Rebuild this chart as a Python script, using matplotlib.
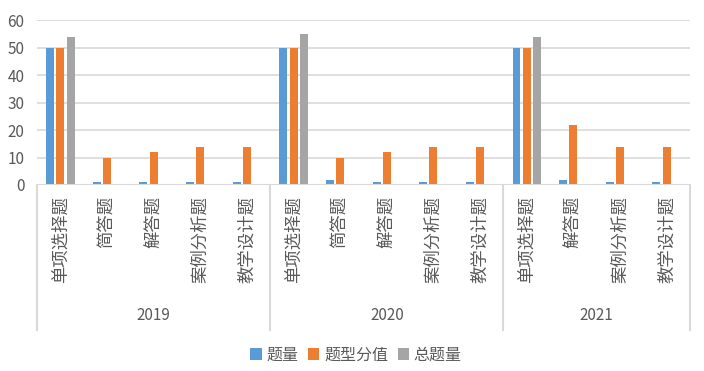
import matplotlib
matplotlib.use("Agg")
import matplotlib.pyplot as plt
import matplotlib.transforms as mtransforms
import numpy as np

plt.rcParams['font.family'] = ['Noto Sans CJK SC', 'DejaVu Sans']

# === Data ===
years = ["2019", "2020", "2021"]
categories = [
    ["单项选择题", "简答题", "解答题", "案例分析题", "教学设计题"],
    ["单项选择题", "简答题", "解答题", "案例分析题", "教学设计题"],
    ["单项选择题", "解答题", "案例分析题", "教学设计题"],
]
series_names = ["题量", "题型分值", "总题量"]
count = [50, 1, 1, 1, 1, 50, 2, 1, 1, 1, 50, 2, 1, 1]
score = [50, 10, 12, 14, 14, 50, 10, 12, 14, 14, 50, 22, 14, 14]
total = [54, 0, 0, 0, 0, 55, 0, 0, 0, 0, 54, 0, 0, 0]
colors = ["#5B9BD5", "#ED7D31", "#A5A5A5"]

W, H = 704, 371
fig = plt.figure(figsize=(W / 100, H / 100), dpi=100)
# plot area in pixels: x 37..690, y 20.5..185
x0, x1, ytop, ybot = 37, 690, 20.5, 185
ax = fig.add_axes([x0 / W, 1 - ybot / H, (x1 - x0) / W, (ybot - ytop) / H])

labels = [c for grp in categories for c in grp]
n = len(labels)
x = np.arange(n)
bw, step = 0.17, 0.22
for k, vals in enumerate([count, score, total]):
    vals = np.array(vals, dtype=float)
    mask = vals > 0
    ax.bar(x[mask] + (k - 1) * step, vals[mask], width=bw, color=colors[k],
           label=series_names[k], zorder=3)

ax.set_xlim(-0.5, n - 0.5)
ax.set_ylim(0, 60)
ax.set_yticks(range(0, 61, 10))
ax.yaxis.grid(True, color="#D9D9D9", linewidth=1.2, zorder=0)
ax.set_axisbelow(True)
for s in ax.spines.values():
    s.set_visible(False)
ax.tick_params(axis="y", length=0, pad=9, labelsize=11, labelcolor="#595959")
ax.tick_params(axis="x", length=0, labelbottom=False)

# axis line at 0
ax.axhline(0, color="#D9D9D9", linewidth=1.5, zorder=4)

trans = mtransforms.blended_transform_factory(ax.transData, ax.transAxes)
ph = ybot - ytop
# group dividers
bounds = [-0.5]
pos = -0.5
for grp in categories:
    pos += len(grp)
    bounds.append(pos)
for b in bounds:
    ax.plot([b, b], [0, -(330 - ybot) / ph], transform=trans, color="#D9D9D9",
            linewidth=1.5, clip_on=False)

# category labels
for i, lab in enumerate(labels):
    ax.text(i, -(196 - ybot) / ph, lab, transform=trans, rotation=90,
            ha="center", va="top", fontsize=12.5, color="#595959")

# year labels
for j, yr in enumerate(years):
    c = (bounds[j] + bounds[j + 1]) / 2
    ax.text(c, -(315 - ybot) / ph, yr, transform=trans, ha="center",
            va="center", fontsize=11, color="#595959")

handles, labs = ax.get_legend_handles_labels()
fig.legend(handles, labs, loc="center", bbox_to_anchor=(356 / W, 1 - 355 / H),
           ncol=3, frameon=False, handlelength=0.7, handleheight=0.7,
           handletextpad=0.3, columnspacing=0.6, fontsize=11.5,
           labelcolor="#595959")

fig.savefig("out.png", dpi=100)
